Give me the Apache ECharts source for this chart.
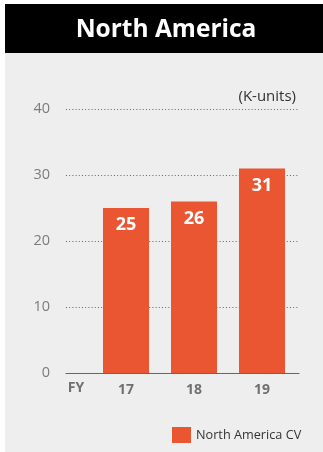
<!DOCTYPE html>
<html>
<head>
<meta charset="UTF-8">
<title>North America</title>
<script src="https://cdn.jsdelivr.net/npm/echarts@6/dist/echarts.min.js"></script>
<style>
  html, body { margin: 0; padding: 0; background: #fff; }
  #chart { width: 323px; height: 452px; }
</style>
</head>
<body>
<div id="chart"></div>
<script>
// data
var titleText = 'North America';
var unitText = '(K-units)';
var axisPrefix = 'FY';
var years = ['17', '18', '19'];
var values = [25, 26, 31];
var seriesName = 'North America CV';
var yTicks = [0, 10, 20, 30, 40];

var font = '"Open Sans", "Noto Sans", sans-serif';
var chart = echarts.init(document.getElementById('chart'));

chart.setOption({
  animation: false,
  textStyle: { fontFamily: font },
  graphic: [
    // gray panel + black title bar
    { type: 'rect', left: 5, top: 4, shape: { width: 318, height: 448 }, style: { fill: '#eeeeee' }, z: -10 },
    { type: 'rect', left: 5, top: 4, shape: { width: 318, height: 49 }, style: { fill: '#000' }, z: -9 },
    { type: 'text', x: 166, y: 30, style: { text: titleText, fill: '#fff', font: 'bold 24.5px ' + font, align: 'center', verticalAlign: 'middle' } },
    { type: 'text', x: 296, y: 97, style: { text: unitText, fill: '#333', font: '15px ' + font, align: 'right', verticalAlign: 'middle' } },
    { type: 'text', x: 76, y: 388, style: { text: axisPrefix, fill: '#707070', font: 'bold 14px ' + font, align: 'center', verticalAlign: 'middle' } }
  ],
  legend: {
    left: 167, top: 422,
    itemWidth: 19, itemHeight: 16, itemGap: 8,
    icon: 'rect',
    textStyle: { color: '#333', fontSize: 12.7, fontFamily: font },
    data: [seriesName]
  },
  grid: [
    { left: 66, right: 24, top: 109, bottom: 79 },
    { left: 92, right: 27, top: 109, bottom: 79 }
  ],
  xAxis: [
    {
      gridIndex: 0, type: 'category', data: [''],
      axisLine: { lineStyle: { color: '#666', width: 1.2 } },
      axisTick: { show: false }, axisLabel: { show: false }
    },
    {
      gridIndex: 1, type: 'category', data: years,
      axisLine: { show: false }, axisTick: { show: false },
      axisLabel: { color: '#707070', fontSize: 14, fontWeight: 'bold', margin: 10, fontFamily: font }
    }
  ],
  yAxis: [
    {
      gridIndex: 0, type: 'value', min: yTicks[0], max: yTicks[yTicks.length - 1], interval: 10,
      axisLine: { show: false }, axisTick: { show: false },
      axisLabel: { color: '#7c7c7c', fontSize: 14.5, margin: 16, fontFamily: font,
        formatter: function (v) { return yTicks.indexOf(v) >= 0 ? String(v) : ''; } },
      splitLine: { show: true, lineStyle: { color: '#666', type: [1, 2.2], width: 1 } }
    },
    {
      gridIndex: 1, type: 'value', min: yTicks[0], max: yTicks[yTicks.length - 1], interval: 10,
      show: false, splitLine: { show: false }
    }
  ],
  series: [{
    name: seriesName,
    type: 'bar',
    xAxisIndex: 1, yAxisIndex: 1,
    data: values,
    barWidth: 46,
    itemStyle: { color: '#ea5532' },
    label: {
      show: true, position: 'insideTop', distance: 8,
      color: '#fff', fontSize: 18, fontWeight: 'bold', fontFamily: font
    }
  }]
});
</script>
</body>
</html>
